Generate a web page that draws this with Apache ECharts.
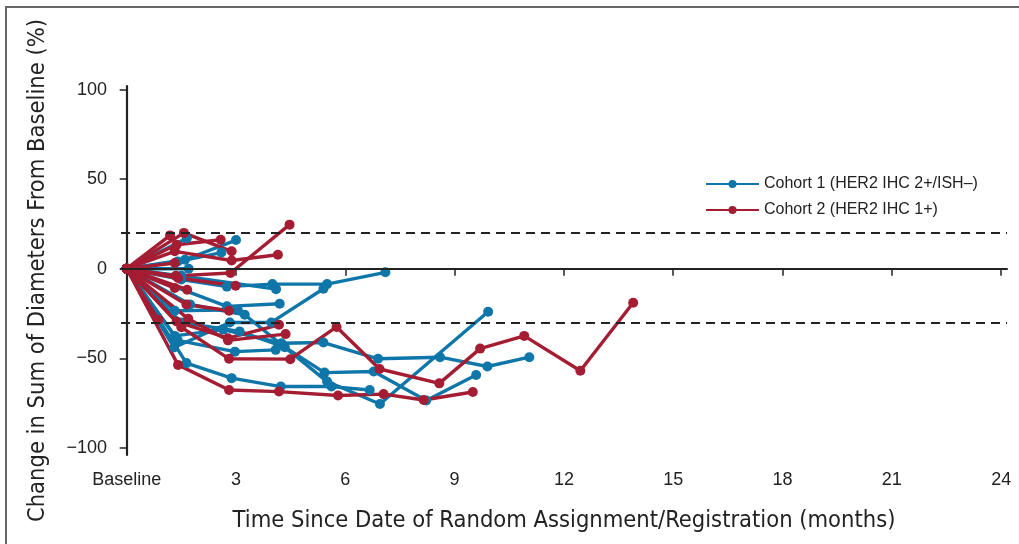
<!DOCTYPE html>
<html lang="en">
<head>
<meta charset="UTF-8">
<title>Change in Sum of Diameters From Baseline</title>
<script src="https://cdn.jsdelivr.net/npm/echarts@6/dist/echarts.min.js"></script>
<style>
    html, body { margin: 0; padding: 0; background: #fff; }
    #frame { position: absolute; left: 5px; top: 6px; width: 1014px; height: 538px;
             border-top: 2px solid #666; border-left: 2px solid #666; }
    #chart { position: absolute; left: 0; top: 0; width: 1019px; height: 544px; }
</style>
</head>
<body>
<div id="frame"></div>
<div id="chart"></div>
<script type="text/javascript">
    // tick positions
    var xTicks = [0, 3, 6, 9, 12, 15, 18, 21, 24];
    var yTicks = [-100, -50, 0, 50, 100];
    var refLines = [20, 0, -30];

    // one trajectory per patient: [months, % change]
    var cohort1 = [
        [[0, 0], [1.6, 5], [3.0, 16]],
        [[0, 0], [1.65, 17]],
        [[0, 0], [1.4, 4], [2.6, 9]],
        [[0, 0], [1.7, 0]],
        [[0, 0], [1.5, -6], [2.75, -10], [4.0, -8.6], [5.5, -8.6], [7.1, -2]],
        [[0, 0], [1.5, -4], [4.1, -11.4]],
        [[0, 0], [1.3, -44], [2.83, -30], [3.97, -30], [5.4, -11.2]],
        [[0, 0], [2.75, -21], [4.2, -19.6]],
        [[0, 0], [1.32, -37.5], [2.65, -34], [4.25, -41.6], [5.4, -41.2], [6.9, -50.3], [8.6, -49.4], [9.9, -54.6], [11.05, -49.4]],
        [[0, 0], [1.4, -40], [2.97, -46.3], [4.09, -45.3]],
        [[0, 0], [1.5, -30], [3.1, -35], [4.34, -43.8], [5.43, -58], [6.78, -57.4], [8.22, -73.6], [9.59, -59.3]],
        [[0, 0], [1.64, -52.7], [2.88, -61.1], [4.23, -65.8], [5.62, -65.8], [6.67, -67.7]],
        [[0, 0], [1.74, -20], [3.24, -25.7], [5.5, -63], [6.95, -75.5], [9.92, -24]],
        [[0, 0], [1.32, -23.5], [3.05, -23]]
    ];
    var cohort2 = [
        [[0, 0], [1.35, -4], [2.85, -2.4], [4.47, 24.6]],
        [[0, 0], [1.19, 18.6]],
        [[0, 0], [1.57, 20], [2.88, 9.7]],
        [[0, 0], [1.37, 13.4], [2.58, 16.2]],
        [[0, 0], [1.32, 9.7], [2.88, 4.6], [4.15, 7.8]],
        [[0, 0], [1.32, 3.2]],
        [[0, 0], [1.41, -5.2], [2.99, -9.5]],
        [[0, 0], [1.66, -11.7]],
        [[0, 0], [1.32, -10.8]],
        [[0, 0], [1.37, -29.5], [2.78, -38.8], [4.18, -31.3]],
        [[0, 0], [1.69, -28], [2.78, -40], [4.36, -36.5]],
        [[0, 0], [1.41, -53.7], [2.81, -67.7], [4.18, -68.6], [5.8, -70.8], [7.05, -70], [8.15, -73.3], [9.5, -68.8]],
        [[0, 0], [1.5, -32.7], [2.81, -50.3], [4.49, -50.5], [5.76, -32.5], [6.94, -56], [8.58, -64], [9.7, -44.6], [10.91, -37.5], [12.45, -57], [13.9, -19]],
        [[0, 0], [1.64, -20], [2.81, -23.5]],
        [[0, 0], [0.87, -28.5]]
    ];

    var name1 = 'Cohort 1 (HER2 IHC 2+/ISH\u2013)';
    var name2 = 'Cohort 2 (HER2 IHC 1+)';
    var blue = '#0e76a8';
    var red = '#a51d33';
    var tickFont = 'Liberation Sans, Arial, sans-serif';
    var titleFont = 'DejaVu Sans Condensed, Liberation Sans Narrow, sans-serif';

    function patientSeries(list, name, color) {
        return list.map(function (pts) {
            return {
                name: name,
                type: 'line',
                data: pts,
                z: 3,
                symbol: 'circle',
                symbolSize: 10,
                showAllSymbol: true,
                lineStyle: {color: color, width: 3.4},
                itemStyle: {color: color},
                emphasis: {disabled: true},
                animation: false
            };
        });
    }

    var series = [{
        type: 'line',
        data: [],
        z: 1,
        silent: true,
        markLine: {
            symbol: 'none',
            silent: true,
            label: {show: false},
            animation: false,
            data: refLines.map(function (v) {
                return {
                    yAxis: v,
                    lineStyle: {color: '#222', width: v === 0 ? 2 : 1.8, type: v === 0 ? 'solid' : [9, 6]}
                };
            })
        }
    }];
    series = series.concat(patientSeries(cohort1, name1, blue), patientSeries(cohort2, name2, red));

    var chart = echarts.init(document.getElementById('chart'));
    chart.setOption({
        animation: false,
        grid: {left: 121, right: 12, top: 86, bottom: 89},
        legend: {
            data: [name1, name2],
            orient: 'vertical',
            left: 700,
            top: 171,
            itemWidth: 53,
            itemHeight: 10,
            itemGap: 10,
            textStyle: {fontFamily: tickFont, fontSize: 16, color: '#222'},
            selectedMode: false
        },
        xAxis: {
            type: 'value',
            min: -0.156,
            max: 24.16,
            name: 'Time Since Date of Random Assignment/Registration (months)',
            nameLocation: 'middle',
            nameGap: 54,
            nameTextStyle: {fontFamily: titleFont, fontSize: 23.5, color: '#222'},
            axisLine: {show: true, lineStyle: {color: '#222', width: 2.2}},
            axisTick: {show: true, length: 7, customValues: xTicks, lineStyle: {color: '#222', width: 1.5}},
            axisLabel: {
                customValues: xTicks, margin: 16,
                fontFamily: tickFont, fontSize: 18, color: '#222',
                formatter: function (v) { return v === 0 ? 'Baseline' : String(v); }
            },
            splitLine: {show: false}
        },
        yAxis: {
            type: 'value',
            min: -104,
            max: 102,
            name: 'Change in Sum of Diameters From Baseline (%)',
            nameLocation: 'middle',
            nameGap: 71,
            nameTextStyle: {fontFamily: titleFont, fontSize: 23.5, color: '#222'},
            axisLine: {show: true, lineStyle: {color: '#222', width: 2.2}},
            axisTick: {show: true, length: 7, customValues: yTicks, lineStyle: {color: '#222', width: 1.5}},
            axisLabel: {
                customValues: yTicks, margin: 14,
                fontFamily: tickFont, fontSize: 18, color: '#222',
                formatter: function (v) { return v < 0 ? '\u2212' + Math.abs(v) : String(v); }
            },
            splitLine: {show: false}
        },
        series: series
    });
</script>
</body>
</html>
